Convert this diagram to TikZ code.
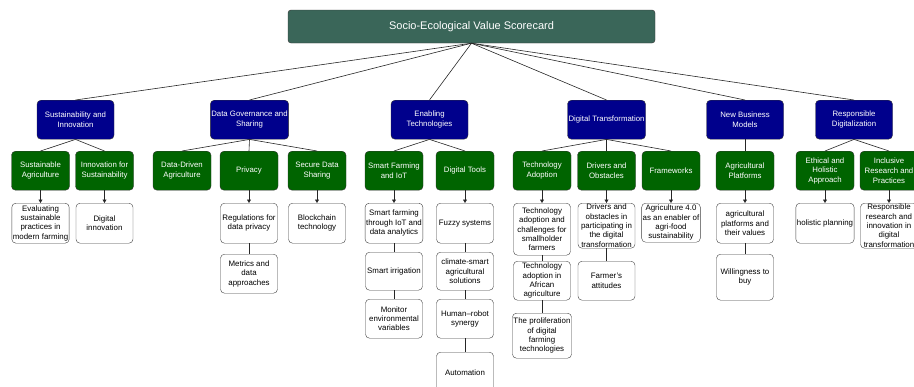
\documentclass[tikz,border=0pt]{standalone}
\usepackage{fontspec}
\setmainfont{Liberation Sans}
\usepackage{xcolor}
\usepackage{tikz}
\usetikzlibrary{arrows.meta, positioning}
\definecolor{rootcolor}{RGB}{58,102,89}
\definecolor{themecolor}{RGB}{0,0,140}
\definecolor{subcolor}{RGB}{0,100,0}

\begin{document}
\begin{tikzpicture}[
    x=1pt, y=-1pt,
    root/.style={draw=black!80, fill=rootcolor, text=white, minimum width=367pt, minimum height=33pt, rounded corners=3pt, font=\fontsize{11}{13}\selectfont},
    theme/.style={draw=black!80, fill=themecolor, text=white, minimum width=77pt, minimum height=39pt, rounded corners=4pt, align=center, inner sep=1pt, anchor=north, font=\fontsize{7.8}{9.6}\selectfont},
    subtheme/.style={theme, fill=subcolor, minimum width=58pt},
    item/.style={draw=black!75, fill=white, text=black, minimum width=57pt, minimum height=40pt, rounded corners=4pt, align=center, inner sep=1pt, anchor=north, font=\fontsize{7.9}{9.3}\selectfont},
    link/.style={draw=black!85, line width=0.6pt},
    arr/.style={link, -{Triangle[length=3.5pt, width=4pt]}}
]
    \useasboundingbox (0,0) rectangle (914,386);

    % Scorecard
    \node[root] (score) at (471.5,26.5) {Socio-Ecological Value Scorecard};

    % Themes
    \node[theme] (sustain) at (75.5,100) {Sustainability and\\Innovation};
    \node[theme] (govern) at (249.5,100) {Data Governance and\\Sharing};
    \node[theme] (enable) at (429.5,100) {Enabling\\Technologies};
    \node[theme] (digital) at (606.5,100) {Digital Transformation};
    \node[theme] (business) at (745,100) {New Business\\Models};
    \node[theme] (respons) at (854,100) {Responsible\\Digitalization};

    % Sub-themes
    \node[subtheme] (susagri) at (40.5,151) {Sustainable\\Agriculture};
    \node[subtheme] (innov) at (104.5,151) {Innovation for\\Sustainability};
    \node[subtheme] (datadriven) at (182,151) {Data-Driven\\Agriculture};
    \node[subtheme] (privacy) at (249,151) {Privacy};
    \node[subtheme] (secure) at (317,151) {Secure Data\\Sharing};
    \node[subtheme] (smartiot) at (394,151) {Smart Farming\\and IoT};
    \node[subtheme] (tools) at (465,151) {Digital Tools};
    \node[subtheme] (adoption) at (542,151) {Technology\\Adoption};
    \node[subtheme] (drivers) at (606.5,151) {Drivers and\\Obstacles};
    \node[subtheme] (frames) at (671,151) {Frameworks};
    \node[subtheme] (platforms) at (745,151) {Agricultural\\Platforms};
    \node[subtheme] (ethical) at (825,151) {Ethical and\\Holistic\\Approach};
    \node[subtheme] (inclusive) at (889,151) {Inclusive\\Research and\\Practices};

    % Items
    \node[item] (evaluate) at (40.5,203) {Evaluating\\sustainable\\practices in\\modern farming};
    \node[item] (diginnov) at (104.5,203) {Digital\\innovation};
    \node[item] (regs) at (249,203) {Regulations for\\data privacy};
    \node[item, minimum height=39pt] (metrics) at (249,254) {Metrics and\\data\\approaches};
    \node[item] (chain) at (317,203) {Blockchain\\technology};
    \node[item] (iotdata) at (394,203) {Smart farming\\through IoT and\\data analytics};
    \node[item, minimum height=38pt] (irrig) at (394,252) {Smart irrigation};
    \node[item, minimum height=39pt] (monitor) at (394,299) {Monitor\\environmental\\variables};
    \node[item] (fuzzy) at (465,203) {Fuzzy systems};
    \node[item, minimum height=38pt] (climate) at (465,252) {climate-smart\\agricultural\\solutions};
    \node[item, minimum height=39pt] (robot) at (465,299) {Human–robot\\synergy};
    \node[item] (autom) at (465,352) {Automation};
    \node[item, minimum height=52pt] (smallholder) at (542,203) {Technology\\adoption and\\challenges for\\smallholder\\farmers};
    \node[item, minimum height=39pt] (african) at (542,261) {Technology\\adoption in\\African\\agriculture};
    \node[item, minimum height=45pt] (prolif) at (542,313) {The proliferation\\of digital\\farming\\technologies};
    \node[item, minimum height=45pt] (particip) at (606.5,203) {Drivers and\\obstacles in\\participating in\\the digital\\transformation};
    \node[item, minimum height=39pt] (attitudes) at (606.5,261) {Farmer's\\attitudes};
    \node[item, minimum height=39pt] (agrifood) at (671,203) {Agriculture 4.0\\as an enabler of\\agri-food\\sustainability};
    \node[item] (values) at (745,203) {agricultural\\platforms and\\their values};
    \node[item, minimum height=46pt] (willing) at (745,254) {Willingness to\\buy};
    \node[item] (holistic) at (825,203) {holistic planning};
    \node[item, minimum height=45pt] (rri) at (889,203) {Responsible\\research and\\innovation in\\digital\\transformation};

    % Scorecard to themes
    \draw[link] (score.south) -- (sustain.north);
    \draw[link] (score.south) -- (govern.north);
    \draw[link] (score.south) -- (enable.north);
    \draw[link] (score.south) -- (digital.north);
    \draw[link] (score.south) -- (business.north);
    \draw[link] (score.south) -- (respons.north);

    % Themes to sub-themes
    \draw[link] (sustain.south) -- (susagri.north);
    \draw[link] (sustain.south) -- (innov.north);
    \draw[link] (govern.south) -- (datadriven.north);
    \draw[link] (govern.south) -- (privacy.north);
    \draw[link] (govern.south) -- (secure.north);
    \draw[link] (enable.south) -- (smartiot.north);
    \draw[link] (enable.south) -- (tools.north);
    \draw[link] (digital.south) -- (adoption.north);
    \draw[link] (digital.south) -- (drivers.north);
    \draw[link] (digital.south) -- (frames.north);
    \draw[link] (business.south) -- (platforms.north);
    \draw[link] (respons.south) -- (ethical.north);
    \draw[link] (respons.south) -- (inclusive.north);

    % Sub-themes to items
    \draw[arr] (susagri) -- (evaluate);
    \draw[arr] (innov) -- (diginnov);
    \draw[arr] (privacy) -- (regs);
    \draw[arr] (secure) -- (chain);
    \draw[arr] (smartiot) -- (iotdata);
    \draw[arr] (tools) -- (fuzzy);
    \draw[arr] (adoption) -- (smallholder);
    \draw[arr] (drivers) -- (particip);
    \draw[arr] (frames) -- (agrifood);
    \draw[arr] (platforms) -- (values);
    \draw[arr] (ethical) -- (holistic);
    \draw[arr] (inclusive) -- (rri);

    % Stacked items
    \draw[link] (regs) -- (metrics);
    \draw[link] (iotdata) -- (irrig);
    \draw[link] (irrig) -- (monitor);
    \draw[link] (fuzzy) -- (climate);
    \draw[link] (climate) -- (robot);
    \draw[link] (robot) -- (autom);
    \draw[link] (smallholder) -- (african);
    \draw[link] (african) -- (prolif);
    \draw[link] (particip) -- (attitudes);
    \draw[link] (values) -- (willing);
\end{tikzpicture}
\end{document}
